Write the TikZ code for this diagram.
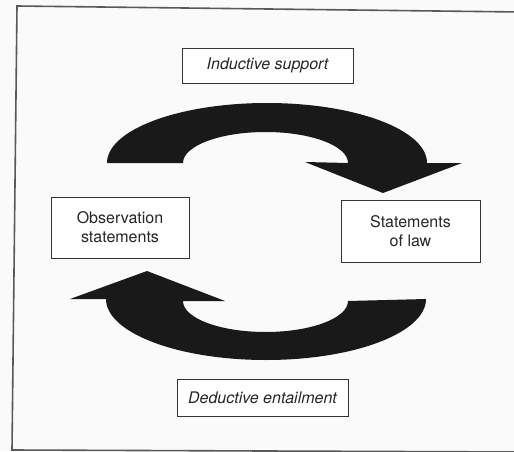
\documentclass[tikz,border=0pt]{standalone}
\usepackage{fontspec}
\setmainfont{TeX Gyre Heros}
\begin{document}
\begin{tikzpicture}[x=1pt,y=1pt,
  labelbox/.style={draw=black!80, line width=0.9pt, fill=white, inner sep=0pt,
    align=center, font=\fontsize{16}{19}\selectfont, text=black!85},
  flowarrow/.style={fill=black!90, draw=none},
  frameline/.style={draw=black!65, line width=1.6pt}]
  % canvas
  \useasboundingbox[fill=black!2] (0,0) rectangle (514,451);
  % page frame
  \coordinate (ftl) at (17,445);
  \coordinate (ftr) at (520,439);
  \coordinate (fbl) at (12,1);
  \coordinate (fbr) at (520,-1);
  \draw[frameline] (ftr) -- (ftl) -- (fbl) -- (fbr);

  % labels
  \node[labelbox, minimum width=171, minimum height=35] (ind) at (267.5,385.5) {\itshape Inductive support};
  \node[labelbox, minimum width=138, minimum height=61] (obs) at (120,223.5) {Observation\\statements};
  \node[labelbox, minimum width=139, minimum height=62] (law) at (410.5,220) {Statements\\of law};
  \node[labelbox, minimum width=171, minimum height=37] (ded) at (262.5,53.5) {\itshape Deductive entailment};

  % upper curved arrow: observation -> law
  \fill[flowarrow] (107,288) arc[start angle=180, end angle=0, x radius=160, y radius=60]
    -- (462,288) -- (383,258) -- (305,289) -- (348,288)
    arc[start angle=0, end angle=180, x radius=82.5, y radius=31] -- cycle;

  % lower curved arrow: law -> observation
  \fill[flowarrow] (426,152) arc[start angle=0, end angle=-180, x radius=160, y radius=61]
    -- (70,152) -- (147,180) -- (225,150) -- (183,150)
    arc[start angle=180, end angle=360, x radius=82.5, y radius=31] -- cycle;
\end{tikzpicture}
\end{document}
